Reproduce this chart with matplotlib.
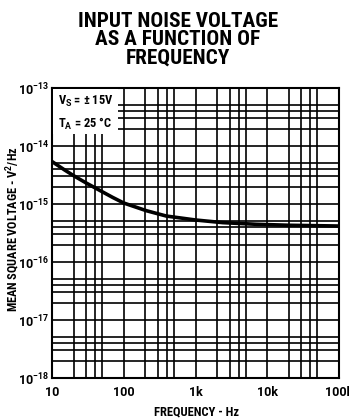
import matplotlib
matplotlib.use("Agg")
import matplotlib.pyplot as plt
from matplotlib.ticker import LogLocator, NullFormatter, FixedLocator
from matplotlib.patches import Rectangle

# Datos
freq_hz = [10, 15, 20, 30, 50, 70, 100, 207, 392, 1000, 2400, 7000, 20000, 100000]
noise_v2hz = [5.4e-15, 3.86e-15, 3.08e-15, 2.3e-15, 1.63e-15, 1.3e-15, 1.04e-15, 7.66e-16,
              6.2e-16, 5.3e-16, 4.77e-16, 4.47e-16, 4.3e-16, 4.17e-16]

xticks = [10, 100, 1000, 10000, 100000]
xtick_labels = ["10", "100", "1k", "10k", "100k"]
yticks = [1e-18, 1e-17, 1e-16, 1e-15, 1e-14, 1e-13]
ytick_labels = [r"$10^{-18}$", r"$10^{-17}$", r"$10^{-16}$", r"$10^{-15}$", r"$10^{-14}$", r"$10^{-13}$"]

plt.rcParams['font.family'] = ['Roboto Condensed', 'Roboto', 'DejaVu Sans']
plt.rcParams['font.weight'] = 'bold'
plt.rcParams['mathtext.fontset'] = 'custom'
plt.rcParams['mathtext.rm'] = 'Roboto:bold'
plt.rcParams['mathtext.default'] = 'rm'

fig = plt.figure(figsize=(3.49, 4.20), dpi=100)
ax = fig.add_axes([52/349, 1 - 378/420, 287/349, 290/420])

ax.set_xscale('log')
ax.set_yscale('log')
ax.set_xlim(10, 100000)
ax.set_ylim(1e-18, 1e-13)

ax.xaxis.set_major_locator(FixedLocator(xticks))
ax.xaxis.set_minor_locator(LogLocator(base=10, subs=(2, 3, 4, 5), numticks=20))
ax.yaxis.set_major_locator(FixedLocator(yticks))
ax.yaxis.set_minor_locator(LogLocator(base=10, subs=(2, 3, 4, 5), numticks=20))
ax.xaxis.set_minor_formatter(NullFormatter())
ax.yaxis.set_minor_formatter(NullFormatter())
ax.set_xticklabels(xtick_labels, fontsize=9, family='Roboto')
ax.set_yticklabels(ytick_labels, fontsize=9)
ax.tick_params(which='both', length=0)
ax.tick_params(axis='x', pad=6)
ax.tick_params(axis='y', pad=2)

ax.grid(True, which='both', color='black', linewidth=1.2)
for s in ax.spines.values():
    s.set_linewidth(1.5)

ax.plot(freq_hz, noise_v2hz, color='black', linewidth=2.6, zorder=3)

# Cuadro de condiciones
ax.add_patch(Rectangle((0.003, 0.84), 0.227, 0.157, transform=ax.transAxes,
                       facecolor='white', edgecolor='none', zorder=4))
ax.text(0.02, 0.955, r"V$_S$ = ± 15V", transform=ax.transAxes,
        fontsize=9, va='center', ha='left', zorder=5)
ax.text(0.02, 0.875, r"T$_A$ = 25 °C", transform=ax.transAxes,
        fontsize=9, va='center', ha='left', zorder=5)

fig.text(0.509, 0.905, "INPUT NOISE VOLTAGE\nAS A FUNCTION OF\nFREQUENCY",
         ha='center', va='center', fontsize=15.3, linespacing=0.97)
fig.text(197/349, 1 - 412/420, "FREQUENCY - Hz", ha='center', va='center', fontsize=9)
fig.text(13.5/349, 1 - 229/420, r"MEAN SQUARE VOLTAGE - V$^2$/Hz", ha='center', va='center',
         rotation=90, fontsize=8.8)

fig.savefig("out.png", dpi=100)
